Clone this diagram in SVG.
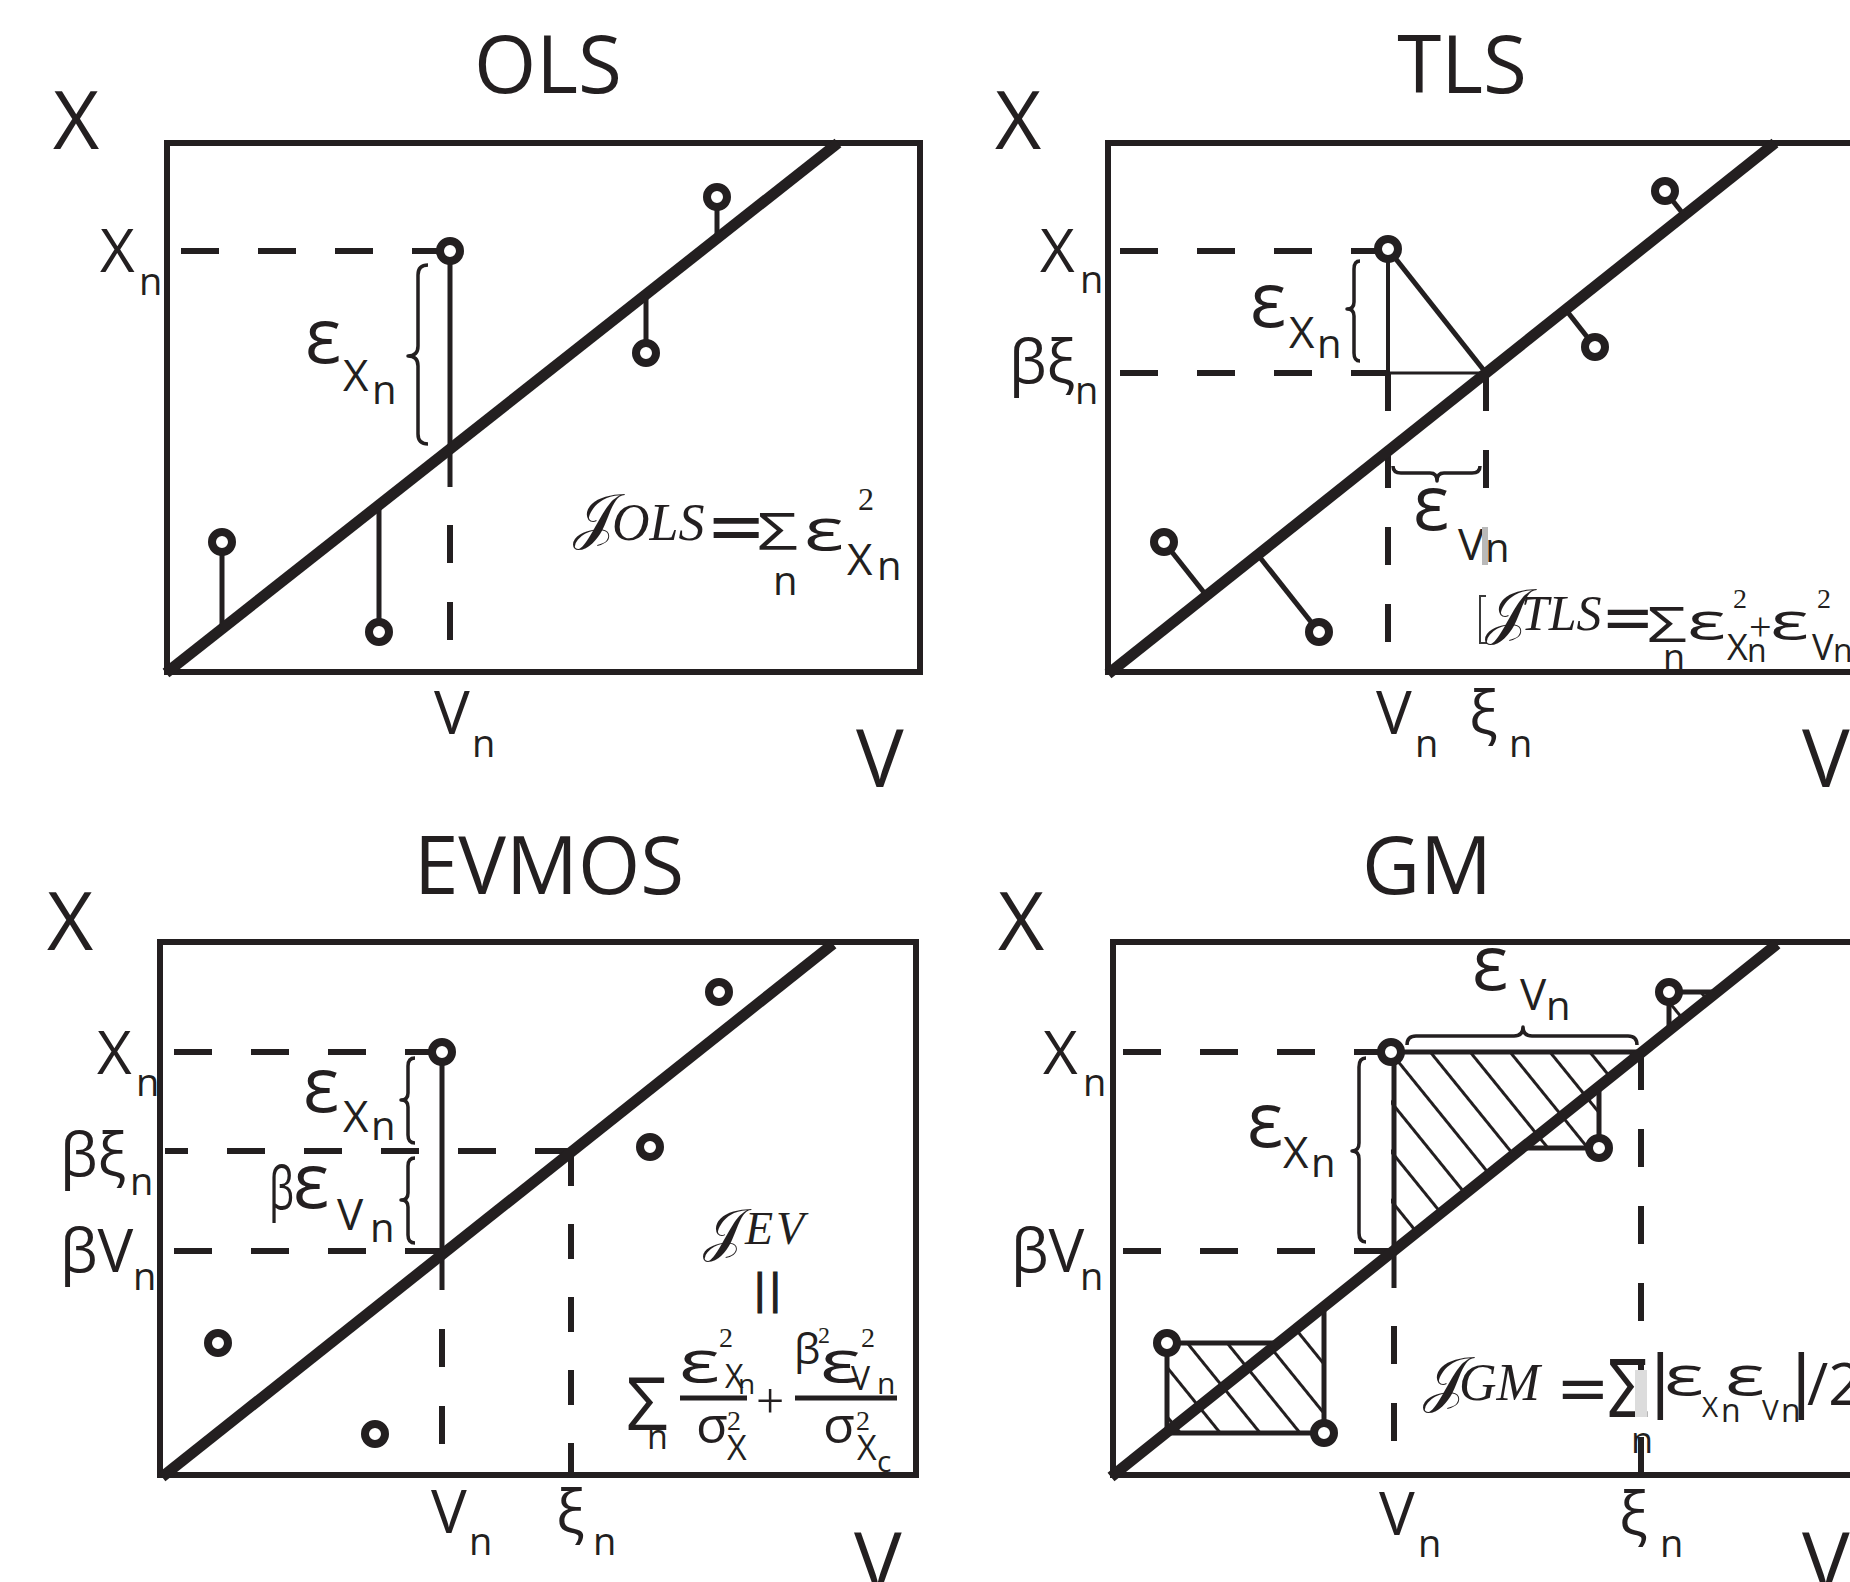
<svg xmlns="http://www.w3.org/2000/svg" width="1850" height="1582" viewBox="0 0 1850 1582">
<defs>
<style>
.frame{fill:none;stroke:#231f20;stroke-width:6}
.fit{stroke:#231f20;stroke-width:11;stroke-linecap:butt}
.stem{stroke:#231f20;stroke-width:5}
.thin{stroke:#231f20;stroke-width:3}
.dash{stroke:#231f20;stroke-width:6;stroke-dasharray:38 39;fill:none}
.pt{fill:#fff;stroke:#231f20;stroke-width:8}
.brace{fill:none;stroke:#231f20;stroke-width:3.5;stroke-linejoin:round}
.hatch{fill:url(#hatch);stroke:none}
text{fill:#231f20}
.s{font-family:"Open Sans","Noto Sans","Liberation Sans",sans-serif}
.cm{font-family:"Liberation Serif","DejaVu Serif",serif;font-style:italic}
.rm{font-family:"Liberation Serif","DejaVu Serif",serif}
.dv{font-family:"DejaVu Sans",sans-serif}
.cal{font-family:"DejaVu Serif","DejaVu Sans","Noto Sans",serif}
.title{font-size:80px;text-anchor:middle}
.ax{font-size:80px}
.tk{font-size:60px}
.tn{font-size:38px}
.eps{font-size:76px}
.es{font-size:44px}
.en{font-size:40px}
</style>
<pattern id="hatch" patternUnits="userSpaceOnUse" width="31" height="31" patternTransform="rotate(-39)">
<line x1="15.5" y1="-5" x2="15.5" y2="36" stroke="#231f20" stroke-width="3"/>
</pattern>
</defs>
<rect width="1850" height="1582" fill="#fff"/>

<!-- ================= OLS ================= -->
<g id="panel-ols">
<text class="s title" x="548" y="93">OLS</text>
<text class="s ax" x="53" y="149">X</text>
<text class="s ax" x="856" y="787">V</text>
<rect class="frame" x="167" y="143" width="753" height="529"/>
<g id="ols-guides">
<line class="dash" x1="181" y1="251" x2="445" y2="251"/>
<line class="dash" x1="450" y1="525" x2="450" y2="641"/>
</g>
<g id="ols-connectors">
<line class="stem" x1="450" y1="251" x2="450" y2="487"/>
<line class="stem" x1="222" y1="542" x2="222" y2="629"/>
<line class="stem" x1="379" y1="632" x2="379" y2="505"/>
<line class="stem" x1="646" y1="353" x2="646" y2="294"/>
<line class="stem" x1="717" y1="197" x2="717" y2="239"/>
<line class="fit" x1="166" y1="673" x2="838" y2="143"/>
</g>
<g id="ols-points">
<circle class="pt" cx="450" cy="251" r="10"/>
<circle class="pt" cx="222" cy="542" r="10"/>
<circle class="pt" cx="379" cy="632" r="10"/>
<circle class="pt" cx="646" cy="353" r="10"/>
<circle class="pt" cx="717" cy="197" r="10"/>
</g>
<g id="ols-labels">
<text class="s tk" x="100" y="272">X</text><text class="s tn" x="139" y="295">n</text>
<text class="s tk" x="434" y="734">V</text><text class="s tn" x="472" y="757">n</text>
<path class="brace" d="M428,265 Q418,265 418,275 L418,346 Q418,356 408,356 Q418,356 418,366 L418,434 Q418,444 428,444"/>
<text class="s eps" x="305" y="363">ε</text><text class="s es" x="343" y="391">X</text><text class="s en" x="372" y="404">n</text>
</g>
<g id="ols-formula">
<text class="cal" x="573" y="537" font-size="62">𝒥</text>
<text class="cm" x="612" y="540" font-size="52">OLS</text>
<text class="dv" x="706" y="550" font-size="72">=</text>
<text class="s" x="757" y="550" font-size="52" textLength="41" lengthAdjust="spacingAndGlyphs">Σ</text>
<text class="s" x="773" y="595" font-size="40">n</text>
<text class="s" x="804" y="550" font-size="58" textLength="40" lengthAdjust="spacingAndGlyphs">ε</text>
<text class="rm" x="858" y="510" font-size="32">2</text>
<text class="s" x="847" y="575" font-size="44">X</text>
<text class="s" x="877" y="580" font-size="40">n</text>
</g>
</g>

<!-- ================= TLS ================= -->
<g id="panel-tls">
<text class="s title" x="1462" y="93">TLS</text>
<text class="s ax" x="995" y="149">X</text>
<text class="s ax" x="1802" y="787">V</text>
<rect class="frame" x="1108" y="143" width="760" height="529"/>
<g id="tls-guides">
<line class="dash" x1="1120" y1="251" x2="1385" y2="251"/>
<line class="dash" x1="1120" y1="373" x2="1388" y2="373"/>
<line class="dash" x1="1388" y1="373" x2="1388" y2="643"/>
<line class="dash" x1="1486" y1="373" x2="1486" y2="489"/>
</g>
<g id="tls-connectors">
<line class="stem" x1="1388" y1="249" x2="1388" y2="373" style="stroke-width:4"/>
<line class="thin" x1="1388" y1="373" x2="1486" y2="373"/>
<line class="stem" x1="1388" y1="249" x2="1486" y2="373"/>
<line class="stem" x1="1665" y1="191" x2="1684" y2="215"/>
<line class="stem" x1="1595" y1="347" x2="1566" y2="310"/>
<line class="stem" x1="1164" y1="542" x2="1206" y2="595"/>
<line class="stem" x1="1319" y1="632" x2="1258" y2="555"/>
<line class="fit" x1="1108" y1="674" x2="1775" y2="143"/>
</g>
<g id="tls-points">
<circle class="pt" cx="1388" cy="249" r="10"/>
<circle class="pt" cx="1665" cy="191" r="10"/>
<circle class="pt" cx="1595" cy="347" r="10"/>
<circle class="pt" cx="1164" cy="542" r="10"/>
<circle class="pt" cx="1319" cy="632" r="10"/>
</g>
<g id="tls-labels">
<text class="s tk" x="1040" y="272">X</text><text class="s tn" x="1080" y="293">n</text>
<text class="s tk" x="1009" y="383">βξ</text><text class="s tn" x="1075" y="404">n</text>
<text class="s tk" x="1376" y="734">V</text><text class="s tn" x="1415" y="757">n</text>
<text class="s tk" x="1469" y="734">ξ</text><text class="s tn" x="1509" y="757">n</text>
<path class="brace" d="M1360,261 Q1354,261 1354,269 L1354,302 Q1354,309 1347,309 Q1354,309 1354,316 L1354,353 Q1354,361 1360,361"/>
<text class="s eps" x="1250" y="327">ε</text><text class="s es" x="1289" y="348">X</text><text class="s en" x="1317" y="358">n</text>
<path class="brace" d="M1393,466 Q1393,473 1401,473 L1430,473 Q1437,473 1437,481 Q1437,473 1444,473 L1472,473 Q1480,473 1480,466"/>
<text class="s eps" x="1413" y="530">ε</text><text class="s es" x="1458" y="560">V</text>
<rect x="1482" y="527" width="6" height="38" fill="#b9b9b9"/>
<text class="s en" x="1485" y="562">n</text>
</g>
<g id="tls-formula">
<path d="M1486,596 L1480,596 L1480,643 L1487,643" fill="none" stroke="#3a3a3a" stroke-width="2"/>
<text class="cal" x="1485" y="632" font-size="62">𝒥</text>
<text class="cm" x="1521" y="630" font-size="50">TLS</text>
<text class="dv" x="1601" y="639" font-size="64">=</text>
<text class="s" x="1647" y="642" font-size="50" textLength="40" lengthAdjust="spacingAndGlyphs">Σ</text>
<text class="s" x="1663" y="670" font-size="36">n</text>
<text class="s" x="1687" y="640" font-size="51" textLength="39" lengthAdjust="spacingAndGlyphs">ε</text>
<text class="rm" x="1733" y="608" font-size="28">2</text>
<text class="s" x="1727" y="660" font-size="36">X</text>
<text class="s" x="1747" y="662" font-size="32">n</text>
<text class="rm" x="1749" y="640" font-size="40">+</text>
<text class="s" x="1770" y="640" font-size="51" textLength="39" lengthAdjust="spacingAndGlyphs">ε</text>
<text class="rm" x="1817" y="608" font-size="28">2</text>
<text class="s" x="1812" y="660" font-size="36">V</text>
<text class="s" x="1833" y="662" font-size="32">n</text>
</g>
</g>

<!-- ================= EVMOS ================= -->
<g id="panel-evmos">
<text class="s title" x="549" y="894">EVMOS</text>
<text class="s ax" x="47" y="950">X</text>
<text class="s ax" x="854" y="1590">V</text>
<rect class="frame" x="160" y="942" width="756" height="533"/>
<g id="evmos-guides">
<line class="dash" x1="174" y1="1052" x2="437" y2="1052"/>
<line class="dash" x1="165" y1="1151" x2="572" y2="1151" style="stroke-dashoffset:15"/>
<line class="dash" x1="174" y1="1251" x2="442" y2="1251"/>
<line class="dash" x1="442" y1="1329" x2="442" y2="1444"/>
<line class="dash" x1="571" y1="1151" x2="571" y2="1475" style="stroke-dasharray:35 38"/>
</g>
<g id="evmos-connectors">
<line class="stem" x1="442" y1="1052" x2="442" y2="1290"/>
<line class="fit" x1="162" y1="1477" x2="833" y2="944"/>
</g>
<g id="evmos-points">
<circle class="pt" cx="442" cy="1052" r="10"/>
<circle class="pt" cx="719" cy="992" r="10"/>
<circle class="pt" cx="650" cy="1147" r="10"/>
<circle class="pt" cx="218" cy="1343" r="10"/>
<circle class="pt" cx="375" cy="1434" r="10"/>
</g>
<g id="evmos-labels">
<text class="s tk" x="97" y="1074">X</text><text class="s tn" x="136" y="1096">n</text>
<text class="s tk" x="60" y="1176">βξ</text><text class="s tn" x="130" y="1195">n</text>
<text class="s tk" x="60" y="1272">βV</text><text class="s tn" x="133" y="1290">n</text>
<text class="s tk" x="431" y="1533">V</text><text class="s tn" x="469" y="1555">n</text>
<text class="s tk" x="556" y="1533">ξ</text><text class="s tn" x="593" y="1555">n</text>
<path class="brace" d="M415,1058 Q408,1058 408,1066 L408,1093 Q408,1100 401,1100 Q408,1100 408,1107 L408,1135 Q408,1143 415,1143"/>
<path class="brace" d="M415,1158 Q408,1158 408,1166 L408,1193 Q408,1200 401,1200 Q408,1200 408,1207 L408,1235 Q408,1243 415,1243"/>
<text class="s eps" x="303" y="1112">ε</text><text class="s es" x="343" y="1132">X</text><text class="s en" x="371" y="1140">n</text>
<text class="s" x="269" y="1209" font-size="58" textLength="25" lengthAdjust="spacingAndGlyphs">β</text><text class="s eps" x="293" y="1208">ε</text><text class="s es" x="337" y="1230">V</text><text class="s en" x="370" y="1242">n</text>
</g>
<g id="evmos-formula">
<text class="cal" x="703" y="1250" font-size="58">𝒥</text>
<text class="cm" x="745" y="1244" font-size="46" letter-spacing="3">EV</text>
<text class="dv" x="753" y="1303" font-size="40" letter-spacing="2" stroke="#231f20" stroke-width="1.2">||</text>
<text class="s" x="626" y="1430" font-size="74">Σ</text>
<text class="s" x="647" y="1449" font-size="34">n</text>
<line x1="680" y1="1398" x2="747" y2="1398" stroke="#231f20" stroke-width="5"/>
<text class="s" x="679" y="1382" font-size="58" textLength="41" lengthAdjust="spacingAndGlyphs">ε</text>
<text class="rm" x="719" y="1347" font-size="28">2</text>
<text class="s" x="725" y="1388" font-size="32">X</text>
<text class="s" x="738" y="1394" font-size="28">n</text>
<text class="s" x="696" y="1443" font-size="52">σ</text>
<text class="rm" x="727" y="1430" font-size="28">2</text>
<text class="s" x="727" y="1460" font-size="34">X</text>
<text class="rm" x="756" y="1418" font-size="50">+</text>
<line x1="795" y1="1398" x2="897" y2="1398" stroke="#231f20" stroke-width="5"/>
<text class="s" x="794" y="1364" font-size="42">β</text>
<text class="rm" x="818" y="1343" font-size="24">2</text>
<text class="s" x="820" y="1382" font-size="58" textLength="41" lengthAdjust="spacingAndGlyphs">ε</text>
<text class="rm" x="861" y="1347" font-size="28">2</text>
<text class="s" x="851" y="1390" font-size="32">V</text>
<text class="s" x="877" y="1394" font-size="30">n</text>
<text class="s" x="823" y="1443" font-size="52">σ</text>
<text class="rm" x="856" y="1430" font-size="28">2</text>
<text class="s" x="857" y="1460" font-size="34">X</text>
<text class="s" x="877" y="1472" font-size="30">c</text>
</g>
</g>

<!-- ================= GM ================= -->
<g id="panel-gm">
<text class="s title" x="1427" y="894">GM</text>
<text class="s ax" x="998" y="950">X</text>
<text class="s ax" x="1802" y="1590">V</text>
<rect class="frame" x="1113" y="942" width="760" height="533"/>
<g id="gm-hatch">
<polygon class="hatch" points="1391,1052 1641,1052 1391,1252"/>
<polygon class="hatch" points="1599,1148 1521,1148 1599,1086"/>
<polygon class="hatch" points="1669,992 1716,992 1669,1030"/>
<polygon class="hatch" points="1167,1343 1278,1343 1167,1432"/>
<polygon class="hatch" points="1324,1433 1165,1433 1324,1306"/>
</g>
<g id="gm-guides">
<line class="dash" x1="1123" y1="1052" x2="1386" y2="1052"/>
<line class="dash" x1="1123" y1="1251" x2="1394" y2="1251"/>
<line class="dash" x1="1394" y1="1326" x2="1394" y2="1442"/>
<line class="dash" x1="1641" y1="1052" x2="1641" y2="1475"/>
</g>
<g id="gm-connectors">
<line class="stem" x1="1391" y1="1052" x2="1641" y2="1052"/>
<line class="stem" x1="1394" y1="1052" x2="1394" y2="1288"/>
<line class="stem" x1="1599" y1="1148" x2="1521" y2="1148"/>
<line class="stem" x1="1599" y1="1148" x2="1599" y2="1086"/>
<line class="stem" x1="1669" y1="992" x2="1716" y2="992"/>
<line class="stem" x1="1669" y1="992" x2="1669" y2="1030"/>
<line class="stem" x1="1167" y1="1343" x2="1278" y2="1343"/>
<line class="stem" x1="1167" y1="1343" x2="1167" y2="1432"/>
<line class="stem" x1="1324" y1="1433" x2="1165" y2="1433"/>
<line class="stem" x1="1324" y1="1433" x2="1324" y2="1306"/>
<line class="fit" x1="1111" y1="1477" x2="1777" y2="944"/>
</g>
<g id="gm-points">
<circle class="pt" cx="1391" cy="1052" r="10"/>
<circle class="pt" cx="1599" cy="1148" r="10"/>
<circle class="pt" cx="1669" cy="992" r="10"/>
<circle class="pt" cx="1167" cy="1343" r="10"/>
<circle class="pt" cx="1324" cy="1433" r="10"/>
</g>
<g id="gm-labels">
<text class="s tk" x="1043" y="1074">X</text><text class="s tn" x="1083" y="1096">n</text>
<text class="s tk" x="1011" y="1272">βV</text><text class="s tn" x="1080" y="1290">n</text>
<text class="s tk" x="1379" y="1535">V</text><text class="s tn" x="1418" y="1557">n</text>
<text class="s tk" x="1619" y="1535">ξ</text><text class="s tn" x="1660" y="1557">n</text>
<path class="brace" d="M1366,1058 Q1359,1058 1359,1067 L1359,1143 Q1359,1151 1352,1151 Q1359,1151 1359,1159 L1359,1233 Q1359,1242 1366,1242"/>
<text class="s eps" x="1247" y="1147">ε</text><text class="s es" x="1283" y="1168">X</text><text class="s en" x="1311" y="1177">n</text>
<path class="brace" d="M1407,1045 Q1407,1036 1416,1036 L1514,1036 Q1523,1036 1523,1027 Q1523,1036 1532,1036 L1628,1036 Q1637,1036 1637,1045"/>
<text class="s eps" x="1472" y="990">ε</text><text class="s es" x="1520" y="1010">V</text><text class="s en" x="1546" y="1020">n</text>
</g>
<g id="gm-formula">
<text class="cal" x="1423" y="1400" font-size="62">𝒥</text>
<text class="cm" x="1459" y="1400" font-size="52">GM</text>
<text class="dv" x="1556" y="1410" font-size="64">=</text>
<text class="s" x="1607" y="1417" font-size="80" textLength="42" lengthAdjust="spacingAndGlyphs">Σ</text>
<rect x="1635" y="1370" width="12" height="47" fill="#dcdcdc"/>
<text class="s" x="1631" y="1453" font-size="36">n</text>
<text class="dv" x="1649" y="1404" font-size="67">|</text>
<text class="s" x="1664" y="1395" font-size="55" textLength="40" lengthAdjust="spacingAndGlyphs">ε</text>
<text class="s" x="1702" y="1417" font-size="28">X</text>
<text class="s" x="1721" y="1422" font-size="32">n</text>
<text class="s" x="1725" y="1395" font-size="55" textLength="40" lengthAdjust="spacingAndGlyphs">ε</text>
<text class="s" x="1762" y="1420" font-size="28">V</text>
<text class="s" x="1781" y="1422" font-size="32">n</text>
<text class="dv" x="1790" y="1404" font-size="67">|</text>
<text class="s" x="1807" y="1405" font-size="58">/2</text>
</g>
</g>
</svg>
